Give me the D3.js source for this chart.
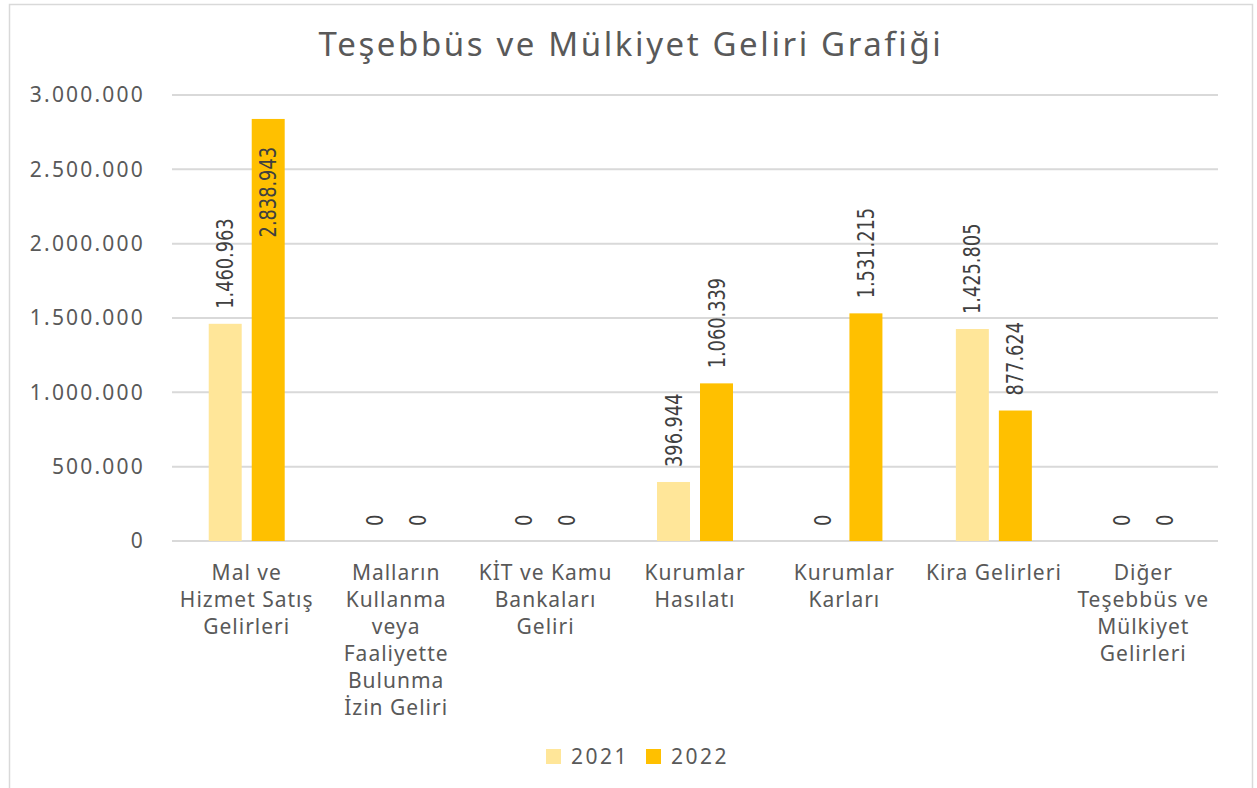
<!DOCTYPE html>
<html lang="tr">
<head>
    <meta charset="UTF-8">
    <title>Teşebbüs ve Mülkiyet Geliri Grafiği</title>
    <style>
        body {
            margin: 0;
            padding: 0;
            background: #ffffff;
            overflow: hidden;
        }
        text {
            font-family: 'Noto Sans', 'Open Sans', sans-serif;
            fill: #595959;
        }
        .value-label {
            font-family: 'Liberation Sans Narrow', 'DejaVu Sans Condensed', sans-serif;
            fill: #404040;
        }
    </style>
    <script src="https://d3js.org/d3.v7.min.js"></script>
</head>
<body>
    <div id="chart"></div>

    <script>
        // Chart data
        const categories = [
            ["Mal ve", "Hizmet Satış", "Gelirleri"],
            ["Malların", "Kullanma", "veya", "Faaliyette", "Bulunma", "İzin Geliri"],
            ["KİT ve Kamu", "Bankaları", "Geliri"],
            ["Kurumlar", "Hasılatı"],
            ["Kurumlar", "Karları"],
            ["Kira Gelirleri"],
            ["Diğer", "Teşebbüs ve", "Mülkiyet", "Gelirleri"]
        ];
        const seriesNames = ["2021", "2022"];
        const values2021 = [1460963, 0, 0, 396944, 0, 1425805, 0];
        const values2022 = [2838943, 0, 0, 1060339, 1531215, 877624, 0];
        const yTicks = [0, 500000, 1000000, 1500000, 2000000, 2500000, 3000000];
        const colors = ["#FFE699", "#FFC000"];

        const width = 1257;
        const height = 788;
        const plot = { left: 172, right: 1218, top: 95, bottom: 541 };

        const fmt = d3.formatLocale({ decimal: ",", thousands: ".", grouping: [3], currency: ["", ""] }).format(",d");

        const svg = d3.select("#chart")
            .append("svg")
            .attr("width", width)
            .attr("height", height);

        // outer border
        svg.append("rect")
            .attr("x", 9.5)
            .attr("y", 4.5)
            .attr("width", 1243)
            .attr("height", 800)
            .attr("fill", "none")
            .attr("stroke", "#d9d9d9")
            .attr("stroke-width", 1.5);

        svg.append("text")
            .attr("x", 631)
            .attr("y", 56)
            .attr("text-anchor", "middle")
            .style("font-size", "33px")
            .style("letter-spacing", "2.6px")
            .text("Teşebbüs ve Mülkiyet Geliri Grafiği");

        const x = d3.scaleBand()
            .domain(d3.range(categories.length))
            .range([plot.left, plot.right]);

        const x1 = d3.scaleBand()
            .domain(seriesNames)
            .range([0, x.bandwidth()])
            .paddingInner(0.233)
            .paddingOuter(0.854);

        const y = d3.scaleLinear()
            .domain([0, 3000000])
            .range([plot.bottom, plot.top]);

        // gridlines
        svg.append("g")
            .selectAll("line")
            .data(yTicks)
            .join("line")
            .attr("x1", plot.left)
            .attr("x2", plot.right)
            .attr("y1", d => y(d))
            .attr("y2", d => y(d))
            .attr("stroke", "#d9d9d9")
            .attr("stroke-width", 2);

        // y axis labels
        const yAxis = d3.axisLeft(y).tickValues(yTicks).tickFormat(fmt).tickSize(0).tickPadding(0);
        const yG = svg.append("g")
            .attr("transform", `translate(145,0)`)
            .call(yAxis);
        yG.select(".domain").remove();
        yG.selectAll("text")
            .attr("font-family", null)
            .style("font-size", "21px")
            .style("letter-spacing", "2.2px")
            .style("fill", "#595959");

        // bars
        const data = categories.map((c, i) => ({ i, vals: [values2021[i], values2022[i]] }));

        const groups = svg.append("g")
            .selectAll("g")
            .data(data)
            .join("g")
            .attr("transform", d => `translate(${x(d.i)},0)`);

        groups.selectAll("rect")
            .data(d => d.vals.map((v, k) => ({ v, k, name: seriesNames[k] })))
            .join("rect")
            .attr("x", d => x1(d.name))
            .attr("width", x1.bandwidth())
            .attr("y", d => y(d.v))
            .attr("height", d => plot.bottom - y(d.v))
            .attr("fill", d => colors[d.k]);

        // value labels (rotated); the top bar carries its label inside
        groups.selectAll("text.value-label")
            .data(d => d.vals.map((v, k) => ({ v, k, name: seriesNames[k] })))
            .join("text")
            .attr("class", "value-label")
            .attr("transform", d => {
                const cx = x1(d.name) + x1.bandwidth() / 2;
                const inside = y(d.v) < 200;
                const yy = inside ? y(d.v) + 28 : y(d.v) - 15;
                return `translate(${cx},${yy}) rotate(-90) scale(0.86,1)`;
            })
            .attr("text-anchor", d => y(d.v) < 200 ? "end" : "start")
            .attr("dominant-baseline", "central")
            .style("font-size", "23px")
            .text(d => fmt(d.v));

        // category labels
        const catG = svg.append("g")
            .selectAll("text")
            .data(categories)
            .join("text")
            .attr("x", (d, i) => x(i) + x.bandwidth() / 2)
            .attr("y", 580)
            .attr("text-anchor", "middle")
            .style("font-size", "21px")
            .style("letter-spacing", "1px");

        catG.selectAll("tspan")
            .data(d => d)
            .join("tspan")
            .attr("x", function () { return d3.select(this.parentNode).attr("x"); })
            .attr("dy", (d, j) => j === 0 ? 0 : 27)
            .text(d => d);

        // legend
        const legend = svg.append("g")
            .selectAll("g")
            .data(seriesNames)
            .join("g")
            .attr("transform", (d, i) => `translate(${546 + i * 100},749)`);

        legend.append("rect")
            .attr("width", 15)
            .attr("height", 15)
            .attr("fill", (d, i) => colors[i]);

        legend.append("text")
            .attr("x", 25)
            .attr("y", 15)
            .style("font-size", "21px")
            .style("letter-spacing", "2.5px")
            .text(d => d);
    </script>
</body>
</html>
